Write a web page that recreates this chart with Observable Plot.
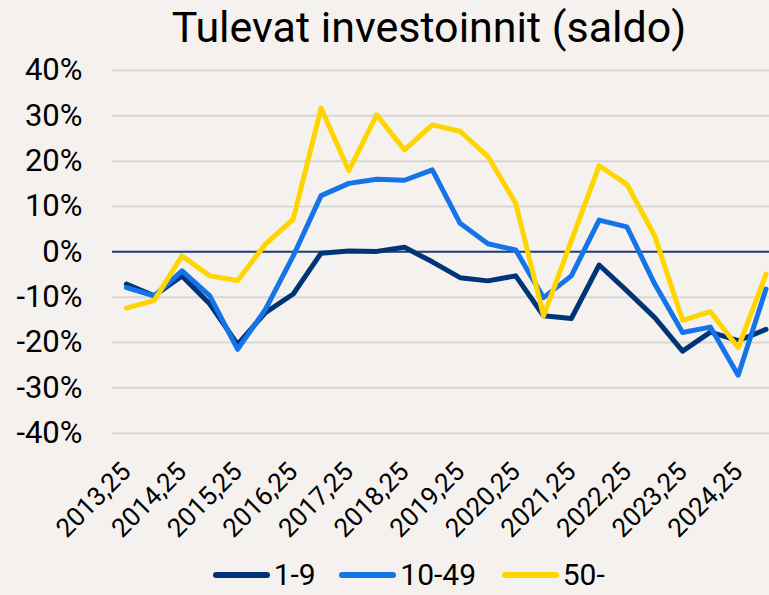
<!DOCTYPE html>
<html>
<head>
<meta charset="utf-8">
<script src="https://cdn.jsdelivr.net/npm/d3@7"></script>
<script src="https://cdn.jsdelivr.net/npm/@observablehq/plot@0.6"></script>
<style>
  html, body { margin: 0; padding: 0; background: #f5f1ee; overflow: hidden; }
  #wrap { position: relative; width: 769px; height: 595px; background: #f5f1ee; font-family: Roboto, sans-serif; color: #000; }
  #title { position: absolute; left: 0; top: 0; width: 769px; height: 55px; }
  #title span { position: absolute; left: 429px; top: 2px; transform: translateX(-50%); font-size: 43px; white-space: nowrap; line-height: 50px; }
  #chart { position: absolute; left: 0; top: 55px; }
  #legend { position: absolute; left: 0; top: 555px; width: 769px; height: 40px; }
  .item { position: absolute; top: 0; height: 40px; display: flex; align-items: center; }
  .item svg { margin-right: 4px; }
  .item span { font-size: 30px; line-height: 40px; }
</style>
</head>
<body>
<div id="wrap">
  <div id="title"><span>Tulevat investoinnit (saldo)</span></div>
  <div id="chart"></div>
  <div id="legend"></div>
</div>
<script>
const periods = ["2013,25","2013,75","2014,25","2014,75","2015,25","2015,75","2016,25","2016,75",
  "2017,25","2017,75","2018,25","2018,75","2019,25","2019,75","2020,25","2020,75",
  "2021,25","2021,75","2022,25","2022,75","2023,25","2023,75","2024,25","2024,75"];
const tickLabels = ["2013,25","2014,25","2015,25","2016,25","2017,25","2018,25",
  "2019,25","2020,25","2021,25","2022,25","2023,25","2024,25"];
const yTicks = [-40, -30, -20, -10, 0, 10, 20, 30, 40];
const seriesNames = ["1-9", "10-49", "50-"];
const seriesColors = ["#003478", "#1474e8", "#ffd500"];
const small = [-7.1, -9.7, -5.3, -11.5, -20.4, -13.4, -9.3, -0.3, 0.2, 0.1, 1.0, -2.2,
  -5.7, -6.4, -5.3, -14.1, -14.7, -2.9, -8.6, -14.5, -21.9, -17.7, -19.6, -17.1];
const medium = [-7.9, -9.7, -4.2, -9.7, -21.5, -12.7, -0.9, 12.4, 15.1, 16.0, 15.8, 18.1,
  6.3, 1.8, 0.4, -10.1, -5.3, 7.0, 5.5, -7.1, -17.8, -16.6, -27.2, -8.2];
const large = [-12.4, -10.7, -0.9, -5.3, -6.3, 1.7, 7.2, 31.7, 17.9, 30.2, 22.5, 28.0,
  26.6, 21.0, 10.7, -14.1, 2.4, 19.0, 14.9, 3.5, -15.1, -13.2, -21.1, -4.9];

const seriesValues = [small, medium, large];
const table = seriesValues.map((vals, s) => periods.map((p, i) => ({period: p, value: vals[i], series: seriesNames[s]})));

const chart = Plot.plot({
  width: 769,
  height: 500,
  marginTop: 15,
  marginBottom: 122.3,
  marginLeft: 112,
  marginRight: 0,
  style: {background: "#f5f1ee", fontFamily: "Roboto, sans-serif", color: "#000", overflow: "visible"},
  x: {type: "point", domain: periods, range: [125.9, 765.5], padding: 0, round: false},
  y: {domain: [-40, 40]},
  marks: [
    Plot.gridY(yTicks, {stroke: "#d9d7d6", strokeOpacity: 1, strokeWidth: 2}),
    Plot.ruleY([0], {stroke: "#1e3f7a", strokeWidth: 2}),
    ...table.map((d, s) => Plot.line(d, {x: "period", y: "value", stroke: seriesColors[s], strokeWidth: 5, strokeLinejoin: "round", strokeLinecap: "round"})),
    Plot.axisY(yTicks, {tickSize: 0, tickPadding: 30, fontSize: 31, tickFormat: d => `${d}%`, label: null}),
    Plot.axisX(tickLabels, {tickSize: 0, tickPadding: 34, tickRotate: -45, textAnchor: "end", lineAnchor: "middle", fontSize: 26, label: null})
  ]
});
document.getElementById("chart").appendChild(chart);

// legend
const legend = document.getElementById("legend");
const lefts = [212.7, 339.3, 501.7];
seriesNames.forEach((name, i) => {
  const item = document.createElement("div");
  item.className = "item";
  item.style.left = lefts[i] + "px";
  item.innerHTML = `<svg width="57" height="10"><line x1="3" y1="5" x2="54" y2="5" stroke="${seriesColors[i]}" stroke-width="6" stroke-linecap="round"/></svg><span>${name}</span>`;
  legend.appendChild(item);
});
</script>
</body>
</html>
